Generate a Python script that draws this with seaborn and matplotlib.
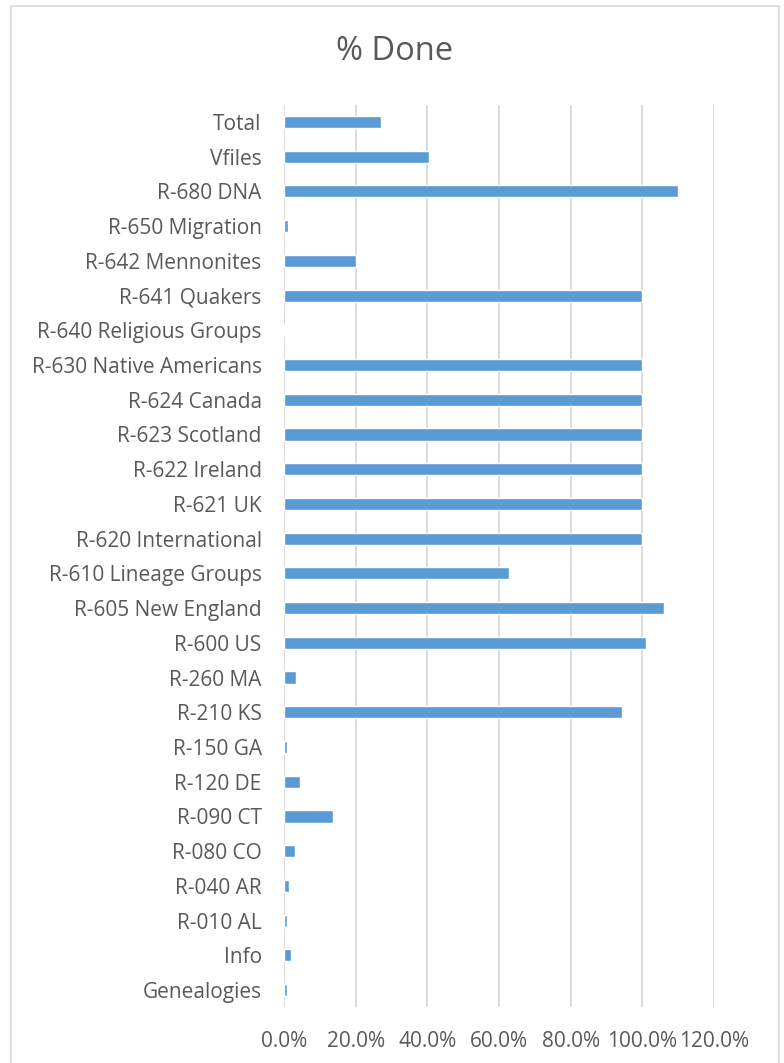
import matplotlib
matplotlib.use("Agg")
import matplotlib.pyplot as plt
import seaborn as sns
import pandas as pd
from matplotlib.patches import Rectangle
from matplotlib.ticker import FuncFormatter

# data (fraction done, 1.0 = 100%)
categories = ["Total", "Vfiles", "R-680 DNA", "R-650 Migration", "R-642 Mennonites",
              "R-641 Quakers", "R-640 Religious Groups", "R-630 Native Americans",
              "R-624 Canada", "R-623 Scotland", "R-622 Ireland", "R-621 UK",
              "R-620 International", "R-610 Lineage Groups", "R-605 New England",
              "R-600 US", "R-260 MA", "R-210 KS", "R-150 GA", "R-120 DE",
              "R-090 CT", "R-080 CO", "R-040 AR", "R-010 AL", "Info", "Genealogies"]
pct_done = [0.271, 0.404, 1.100, 0.010, 0.201,
            1.000, 0.0, 1.000,
            1.000, 1.000, 1.000, 1.000,
            1.000, 0.629, 1.061,
            1.009, 0.034, 0.944, 0.008, 0.045,
            0.136, 0.030, 0.013, 0.009, 0.020, 0.008]

df = pd.DataFrame({"cat": categories, "pct": pct_done})

sns.set_style("white")
plt.rcParams['font.family'] = ['Open Sans', 'DejaVu Sans']
text_col = "#595959"

fig = plt.figure(figsize=(7.84, 10.63), dpi=100)
ax = fig.add_axes([0.3622, 0.0523, 0.5485, 0.8493])

sns.barplot(data=df, x="pct", y="cat", color="#5b9bd5", saturation=1,
            width=0.35, ax=ax, orient="h")

ax.set_xlim(0, 1.2)
ax.set_xticks([0, 0.2, 0.4, 0.6, 0.8, 1.0, 1.2])
ax.xaxis.set_major_formatter(FuncFormatter(lambda v, p: f"{v*100:.1f}%"))
ax.grid(axis="x", color="#d9d9d9", linewidth=1.3)
ax.set_axisbelow(True)
for s in ax.spines.values():
    s.set_visible(False)
ax.set_xlabel("")
ax.set_ylabel("")
ax.tick_params(axis="both", length=0, labelsize=15, colors=text_col)
ax.tick_params(axis="x", pad=17)
ax.tick_params(axis="y", pad=16)

fig.text(0.503, 0.952, "% Done", ha="center", va="center", fontsize=23.5, color=text_col)

# chart area border
fig.patches.append(Rectangle((11 / 784, -0.01), (779 - 11) / 784, 1 - 6 / 1063 + 0.01,
                             transform=fig.transFigure, fill=False,
                             edgecolor="#d9d9d9", linewidth=1.2))

fig.savefig("out.png", dpi=100)
